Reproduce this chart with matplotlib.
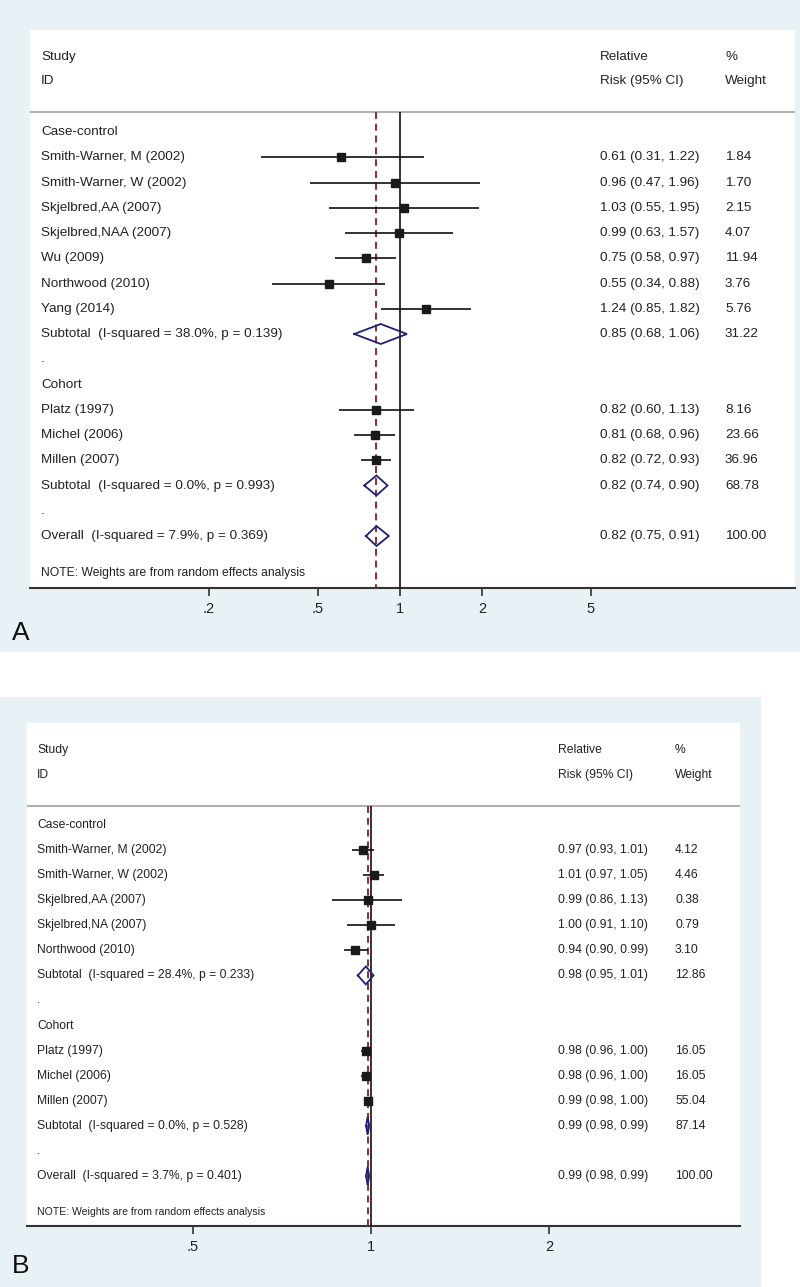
import numpy as np
import matplotlib
matplotlib.use("Agg")
import matplotlib.pyplot as plt
from matplotlib.patches import Rectangle
from matplotlib.transforms import blended_transform_factory

plt.rcParams['font.family'] = ['Liberation Sans', 'DejaVu Sans']
plt.rcParams['lines.scale_dashes'] = False

nan = np.nan

# ---------------- Panel A data ----------------
a_rows = ["Case-control", "Smith-Warner, M (2002)", "Smith-Warner, W (2002)",
          "Skjelbred,AA (2007)", "Skjelbred,NAA (2007)", "Wu (2009)",
          "Northwood (2010)", "Yang (2014)",
          "Subtotal  (I-squared = 38.0%, p = 0.139)", ".", "Cohort",
          "Platz (1997)", "Michel (2006)", "Millen (2007)",
          "Subtotal  (I-squared = 0.0%, p = 0.993)", ".",
          "Overall  (I-squared = 7.9%, p = 0.369)"]
a_type = ['h', 's', 's', 's', 's', 's', 's', 's', 'd', 'b', 'h', 's', 's', 's', 'd', 'b', 'd']
a_est = [nan, 0.61, 0.96, 1.03, 0.99, 0.75, 0.55, 1.24, 0.85, nan, nan, 0.82, 0.81, 0.82, 0.82, nan, 0.82]
a_lo = [nan, 0.31, 0.47, 0.55, 0.63, 0.58, 0.34, 0.85, 0.68, nan, nan, 0.60, 0.68, 0.72, 0.74, nan, 0.75]
a_hi = [nan, 1.22, 1.96, 1.95, 1.57, 0.97, 0.88, 1.82, 1.06, nan, nan, 1.13, 0.96, 0.93, 0.90, nan, 0.91]
a_wt = [nan, 1.84, 1.70, 2.15, 4.07, 11.94, 3.76, 5.76, 31.22, nan, nan, 8.16, 23.66, 36.96, 68.78, nan, 100.00]
a_ticks = [0.2, 0.5, 1, 2, 5]
a_ticklabels = [".2", ".5", "1", "2", "5"]

# ---------------- Panel B data ----------------
b_rows = ["Case-control", "Smith-Warner, M (2002)", "Smith-Warner, W (2002)",
          "Skjelbred,AA (2007)", "Skjelbred,NA (2007)", "Northwood (2010)",
          "Subtotal  (I-squared = 28.4%, p = 0.233)", ".", "Cohort",
          "Platz (1997)", "Michel (2006)", "Millen (2007)",
          "Subtotal  (I-squared = 0.0%, p = 0.528)", ".",
          "Overall  (I-squared = 3.7%, p = 0.401)"]
b_type = ['h', 's', 's', 's', 's', 's', 'd', 'b', 'h', 's', 's', 's', 'd', 'b', 'd']
b_est = [nan, 0.97, 1.01, 0.99, 1.00, 0.94, 0.98, nan, nan, 0.98, 0.98, 0.99, 0.987, nan, 0.987]
b_lo = [nan, 0.93, 0.97, 0.86, 0.91, 0.90, 0.95, nan, nan, 0.96, 0.96, 0.98, 0.981, nan, 0.981]
b_hi = [nan, 1.01, 1.05, 1.13, 1.10, 0.99, 1.01, nan, nan, 1.00, 1.00, 1.00, 0.993, nan, 0.993]
b_wt = [nan, 4.12, 4.46, 0.38, 0.79, 3.10, 12.86, nan, nan, 16.05, 16.05, 55.04, 87.14, nan, 100.00]
b_ticks = [0.5, 1, 2]
b_ticklabels = [".5", "1", "2"]

W, H = 800, 1287
fig = plt.figure(figsize=(W / 100, H / 100), dpi=100)
fig.patch.set_facecolor('white')

BG = '#e8f1f5'
TXT = '#222222'
NAVY = '#1f2070'
RED = '#8c2a3c'


def fx(px):
    return px / W


def fy(py):
    return 1 - py / H


def draw_panel(g, rows, types, est, lo, hi, wt, ticks, ticklabels):
    # background
    fig.add_artist(Rectangle((fx(g['bg'][0]), fy(g['bg'][3])),
                             fx(g['bg'][2] - g['bg'][0]), (g['bg'][3] - g['bg'][1]) / H,
                             transform=fig.transFigure, facecolor=BG, edgecolor='none', zorder=0))
    L, T, R, B = g['box']
    ax = fig.add_axes([fx(L), fy(B), fx(R - L), (B - T) / H])
    ax.set_facecolor('white')
    ax.set_zorder(1)
    ax.set_xscale('log')
    ax.set_xlim(10 ** ((L - g['one']) / g['ppd']), 10 ** ((R - g['one']) / g['ppd']))
    ax.set_ylim(B, T)
    for s in ['top', 'left', 'right']:
        ax.spines[s].set_visible(False)
    ax.spines['bottom'].set_color('#333333')
    ax.spines['bottom'].set_linewidth(1.5)
    ax.set_yticks([])
    ax.set_xticks(ticks)
    ax.set_xticklabels(ticklabels)
    ax.minorticks_off()
    ax.xaxis.set_minor_locator(matplotlib.ticker.NullLocator())
    ax.tick_params(axis='x', direction='out', length=6, width=1.2, color='#333333',
                   labelsize=g['ticksize'], labelcolor=TXT, pad=4)

    tr = blended_transform_factory(ax.transAxes, ax.transData)

    def ax_x(px):
        return (px - L) / (R - L)

    # headers
    fs = g['fs']
    for yy, (t1, t2, t3) in zip(g['hdr'], [("Study", "Relative", "%"), ("ID", "Risk (95% CI)", "Weight")]):
        ax.text(ax_x(g['xl']), yy, t1, transform=tr, fontsize=fs, color=TXT, va='center', ha='left')
        ax.text(ax_x(g['xe']), yy, t2, transform=tr, fontsize=fs, color=TXT, va='center', ha='left')
        ax.text(ax_x(g['xw']), yy, t3, transform=tr, fontsize=fs, color=TXT, va='center', ha='left')
    ax.axhline(g['hline'], color='#b0b0b0', lw=1.5, zorder=2)

    ys = [g['y0'] + i * g['step'] for i in range(len(rows))]
    overall = est[-1]
    ax.vlines(1, g['hline'], B, colors='#111111', lw=1.2, zorder=3)
    ax.vlines(overall, g['hline'], B, colors=RED, lw=1.4, linestyles=(0, (5, 3.5)), zorder=4)

    for i, (lab, t) in enumerate(zip(rows, types)):
        y = ys[i]
        ax.text(ax_x(g['xl']), y, lab, transform=tr, fontsize=fs, color=TXT, va='center', ha='left')
        if t in ('s', 'd'):
            ax.text(ax_x(g['xe']), y, f"{est[i]:.2f} ({lo[i]:.2f}, {hi[i]:.2f})",
                    transform=tr, fontsize=fs, color=TXT, va='center', ha='left')
            ax.text(ax_x(g['xw']), y, f"{wt[i]:.2f}",
                    transform=tr, fontsize=fs, color=TXT, va='center', ha='left')
        if t == 's':
            ax.hlines(y, lo[i], hi[i], colors='#111111', lw=1.2, zorder=5)
            ax.plot([est[i]], [y], marker='s', ms=5.8, color='#1a1a1a', ls='none', zorder=6)
        elif t == 'd':
            h = g['dh']
            ax.plot([lo[i], est[i], hi[i], est[i], lo[i]], [y, y - h, y, y + h, y],
                    color=NAVY, lw=1.3, zorder=5, solid_joinstyle='miter')

    ax.text(ax_x(g['xl']), g['note'], "NOTE: Weights are from random effects analysis",
            transform=tr, fontsize=g['notefs'], color=TXT, va='center', ha='left')

    fig.text(fx(g['lab'][0]), fy(g['lab'][1]), g['labtxt'], fontsize=19, color='#111111',
             ha='left', va='center', zorder=5)
    return ax


geomA = dict(bg=(0, 0, 800, 652), box=(30, 30, 795, 588), one=400, ppd=273,
             hdr=(57, 81), hline=112, y0=132, step=25.25, xl=41, xe=600, xw=725,
             fs=9.7, notefs=8.7, note=573, ticksize=10.5, dh=10, lab=(12, 633), labtxt='A')
geomB = dict(bg=(0, 697, 761, 1287), box=(27, 723, 740, 1226), one=371, ppd=591,
             hdr=(750, 775), hline=806, y0=825, step=25.07, xl=37, xe=558, xw=675,
             fs=8.7, notefs=7.6, note=1212, ticksize=10.5, dh=9, lab=(12, 1266), labtxt='B')

draw_panel(geomA, a_rows, a_type, a_est, a_lo, a_hi, a_wt, a_ticks, a_ticklabels)
draw_panel(geomB, b_rows, b_type, b_est, b_lo, b_hi, b_wt, b_ticks, b_ticklabels)

fig.savefig('out.png', dpi=100, facecolor='white')
